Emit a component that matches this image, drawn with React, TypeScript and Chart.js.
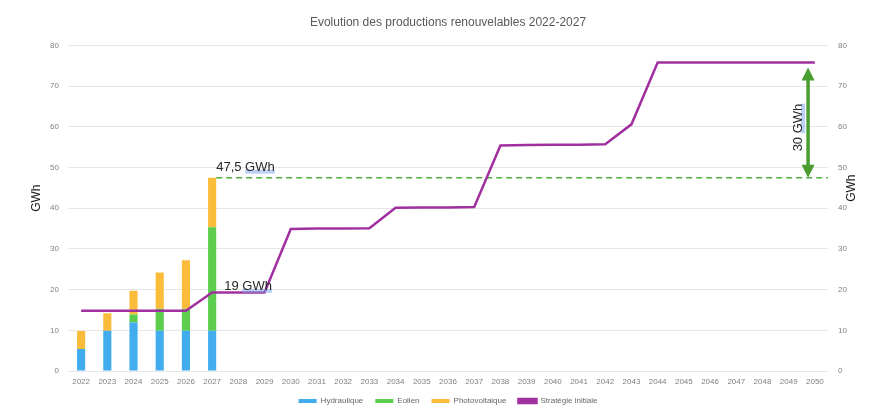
import React, { useEffect, useRef } from "react";
import { Chart, registerables } from "chart.js";

Chart.register(...registerables);

const YEARS = [
  "2022","2023","2024","2025","2026","2027","2028","2029","2030","2031",
  "2032","2033","2034","2035","2036","2037","2038","2039","2040","2041",
  "2042","2043","2044","2045","2046","2047","2048","2049","2050",
];
const HYDRAULIQUE = [5.4, 9.9, 11.9, 9.9, 9.9, 9.9];
const EOLIEN = [0, 0, 2.0, 5.4, 5.4, 25.4];
const PHOTOVOLTAIQUE = [4.4, 4.3, 5.8, 8.9, 11.9, 12.2];
const STRATEGIE = [
  14.8, 14.8, 14.8, 14.8, 14.8, 19.3, 19.3, 19.3, 34.9, 35.0,
  35.0, 35.1, 40.1, 40.2, 40.2, 40.3, 55.4, 55.5, 55.6, 55.6,
  55.7, 60.6, 75.8, 75.8, 75.8, 75.8, 75.8, 75.8, 75.8,
];
const Y_TICKS = [0, 10, 20, 30, 40, 50, 60, 70, 80];
const TARGET_2027 = 47.5;
const TARGET_LABEL = "47,5 GWh";
const STRAT_2027 = 19.3;
const STRAT_LABEL = "19 GWh";
const GAP_LABEL = "30 GWh";
const ARROW_TOP = 74.6;
const ARROW_INDEX = 27.74;

const TITLE = "Evolution des productions renouvelables 2022-2027";
const FONT = "'Liberation Sans', Arial, sans-serif";

const annotations = {
  id: "annotations",
  beforeDatasetsDraw(chart: any) {
    const { ctx, chartArea } = chart;
    const yS = chart.scales.y;
    const bar = chart.getDatasetMeta(2).data[5];
    const yT = yS.getPixelForValue(TARGET_2027);
    ctx.save();
    ctx.strokeStyle = "#4caf3a";
    ctx.lineWidth = 1.5;
    ctx.setLineDash([6, 4]);
    ctx.beginPath();
    ctx.moveTo(bar.x + bar.width / 2, yT);
    ctx.lineTo(chartArea.right, yT);
    ctx.stroke();
    ctx.restore();
  },
  afterDatasetsDraw(chart: any) {
    const { ctx, chartArea } = chart;
    const yS = chart.scales.y;
    const xS = chart.scales.x;
    const bar = chart.getDatasetMeta(2).data[5];
    const barRight = bar.x + bar.width / 2;
    ctx.save();
    ctx.font = `13px ${FONT}`;
    ctx.textBaseline = "alphabetic";
    ctx.textAlign = "left";

    const drawLabel = (txt: string, x: number, base: number) => {
      const parts = txt.split(" ");
      const w1 = ctx.measureText(parts[0] + " ").width;
      const w2 = ctx.measureText(parts.slice(1).join(" ")).width;
      ctx.fillStyle = "rgba(120,165,235,0.5)";
      ctx.fillRect(x + w1, base - 1, w2, 4);
      ctx.fillStyle = "#262626";
      ctx.fillText(txt, x, base);
    };

    // 47,5 GWh
    drawLabel(TARGET_LABEL, barRight, yS.getPixelForValue(TARGET_2027) - 7);
    // 19 GWh
    drawLabel(STRAT_LABEL, barRight + 8, yS.getPixelForValue(STRAT_2027) - 2.5);

    // double arrow
    const ax = xS.getPixelForValue(ARROW_INDEX);
    const yTop = yS.getPixelForValue(ARROW_TOP);
    const yBot = yS.getPixelForValue(TARGET_2027);
    const head = 13;
    const hw = 6.5;
    ctx.fillStyle = "#4a9e2f";
    ctx.strokeStyle = "#4a9e2f";
    ctx.lineWidth = 3.5;
    ctx.beginPath();
    ctx.moveTo(ax, yTop + head - 1);
    ctx.lineTo(ax, yBot - head + 1);
    ctx.stroke();
    ctx.beginPath();
    ctx.moveTo(ax, yTop);
    ctx.lineTo(ax - hw, yTop + head);
    ctx.lineTo(ax + hw, yTop + head);
    ctx.closePath();
    ctx.fill();
    ctx.beginPath();
    ctx.moveTo(ax, yBot);
    ctx.lineTo(ax - hw, yBot - head);
    ctx.lineTo(ax + hw, yBot - head);
    ctx.closePath();
    ctx.fill();

    // 30 GWh rotated
    ctx.save();
    const cy = (yTop + yBot) / 2 + 5;
    ctx.translate(ax - 6, cy);
    ctx.rotate(-Math.PI / 2);
    const tw = ctx.measureText(GAP_LABEL).width;
    drawLabel(GAP_LABEL, -tw / 2, 0);
    ctx.restore();

    // axis titles
    ctx.font = `12px ${FONT}`;
    ctx.fillStyle = "#1a1a1a";
    ctx.textAlign = "center";
    ctx.textBaseline = "middle";
    const midY = (chartArea.top + chartArea.bottom) / 2 - 10;
    ctx.save();
    ctx.translate(chartArea.left - 31, midY);
    ctx.rotate(-Math.PI / 2);
    ctx.fillText("GWh", 0, 0);
    ctx.restore();
    ctx.save();
    ctx.translate(chartArea.right + 24, midY - 10);
    ctx.rotate(-Math.PI / 2);
    ctx.fillText("GWh", 0, 0);
    ctx.restore();

    ctx.restore();
  },
};

export default function App() {
  const ref = useRef<HTMLCanvasElement | null>(null);

  useEffect(() => {
    if (!ref.current) return;
    const tickFont = { family: FONT, size: 8 };
    const chart = new Chart(ref.current, {
      type: "bar",
      data: {
        labels: YEARS,
        datasets: [
          {
            type: "line",
            label: "Stratégie initiale",
            data: STRATEGIE,
            borderColor: "#a0309f",
            backgroundColor: "#a0309f",
            borderWidth: 2.5,
            pointRadius: 0,
            tension: 0,
            stack: "line",
            order: 0,
          } as any,
          {
            label: "Hydraulique",
            data: HYDRAULIQUE,
            backgroundColor: "#41adef",
            stack: "bars",
            order: 1,
            barPercentage: 0.31,
            categoryPercentage: 1,
          },
          {
            label: "Eolien",
            data: EOLIEN,
            backgroundColor: "#5ccd4c",
            stack: "bars",
            order: 1,
            barPercentage: 0.31,
            categoryPercentage: 1,
          },
          {
            label: "Photovoltaique",
            data: PHOTOVOLTAIQUE,
            backgroundColor: "#fbbb3b",
            stack: "bars",
            order: 1,
            barPercentage: 0.31,
            categoryPercentage: 1,
          },
        ],
      },
      options: {
        animation: false,
        responsive: false,
        layout: { padding: { left: 0, right: 0, top: 0, bottom: -5 } },
        plugins: {
          tooltip: { enabled: false },
          title: {
            display: true,
            text: TITLE,
            fullSize: false,
            color: "#595959",
            font: { family: FONT, size: 12, weight: "normal" },
            padding: { top: 15, bottom: 16 },
          },
          legend: {
            position: "bottom",
            fullSize: false,
            labels: {
              boxWidth: 18,
              boxHeight: 4,
              padding: 12,
              color: "#666666",
              font: { family: FONT, size: 8 },
              sort: (a: any, b: any) => {
                const rank = (i: any) => (i.datasetIndex === 0 ? 99 : i.datasetIndex);
                return rank(a) - rank(b);
              },
            },
          },
        },
        scales: {
          x: {
            stacked: true,
            grid: { display: false, drawTicks: false },
            border: { display: false },
            ticks: {
              color: "#808080",
              font: tickFont,
              padding: 6,
              maxRotation: 0,
              autoSkip: false,
            },
            afterFit: (s: any) => {
              s.height = 14;
            },
          },
          y: {
            position: "left",
            stacked: true,
            min: 0,
            max: 80,
            afterBuildTicks: (s: any) => {
              s.ticks = Y_TICKS.map((v) => ({ value: v }));
            },
            grid: { color: "#e6e6e6", lineWidth: 1, drawTicks: false },
            border: { display: false },
            ticks: { color: "#808080", font: tickFont, padding: 9 },
            afterFit: (s: any) => {
              s.width = 68;
            },
          },
          y1: {
            position: "right",
            min: 0,
            max: 80,
            afterBuildTicks: (s: any) => {
              s.ticks = Y_TICKS.map((v) => ({ value: v }));
            },
            grid: { display: false, drawTicks: false },
            border: { display: false },
            ticks: { color: "#808080", font: tickFont, padding: 10 },
            afterFit: (s: any) => {
              s.width = 42;
            },
          },
        },
      } as any,
      plugins: [annotations],
    });
    return () => chart.destroy();
  }, []);

  return (
    <div style={{ position: "absolute", left: 0, top: 0, width: 870, height: 410, background: "#fff" }}>
      <canvas ref={ref} width={870} height={410} style={{ width: 870, height: 410, display: "block" }} />
    </div>
  );
}
